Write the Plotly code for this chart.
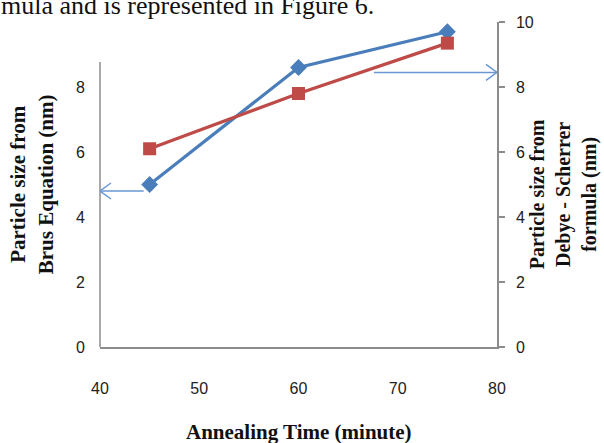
import plotly.graph_objects as go

# Data
annealing_time = [45, 60, 75]
brus_size = [5.0, 8.6, 9.7]          # left axis (blue)
scherrer_size = [6.1, 7.8, 9.35]     # right axis (red)
x_ticks = [40, 50, 60, 70, 80]
left_ticks = [0, 2, 4, 6, 8]
right_ticks = [0, 2, 4, 6, 8, 10]
left_axis_top = 8.77
arrow_left_y = 4.8
arrow_left_x = [44.4, 40]
arrow_right_y = 8.45
arrow_right_x = [67.6, 80]

BLUE = "#4A7EBB"
RED = "#BE4B48"
ARROW = "#6A97D2"
AXIS = "#8C8C8C"
TICKFONT = dict(family="Liberation Sans Narrow, Arial Narrow, Liberation Sans, sans-serif", size=16, color="#222222")
TITLEFONT = dict(family="Liberation Serif, Times New Roman, serif", size=21, color="#111111")
RTITLEFONT = dict(family="Liberation Serif, Times New Roman, serif", size=20, color="#111111")

fig = go.Figure()

fig.add_trace(go.Scatter(
    x=annealing_time, y=brus_size, mode="lines+markers",
    line=dict(color=BLUE, width=3.2),
    marker=dict(symbol="diamond", size=13, color=BLUE),
    yaxis="y", showlegend=False, cliponaxis=False))

fig.add_trace(go.Scatter(
    x=annealing_time, y=scherrer_size, mode="lines+markers",
    line=dict(color=RED, width=3.2),
    marker=dict(symbol="square", size=13, color=RED),
    yaxis="y2", showlegend=False, cliponaxis=False))

# arrow shafts
fig.add_trace(go.Scatter(x=arrow_left_x, y=[arrow_left_y] * 2, mode="lines",
                         line=dict(color=ARROW, width=1.5), showlegend=False, hoverinfo="skip"))
fig.add_trace(go.Scatter(x=arrow_right_x, y=[arrow_right_y] * 2, mode="lines",
                         line=dict(color=ARROW, width=1.5), showlegend=False, hoverinfo="skip"))

shapes = [
    # left axis line (shorter than plot)
    dict(type="line", xref="x domain", yref="y", x0=0, x1=0, y0=0, y1=left_axis_top,
         line=dict(color=AXIS, width=1.5)),
    # arrow heads (open chevrons)
    dict(type="path", xref="x", yref="y", xsizemode="pixel", ysizemode="pixel",
         xanchor=arrow_left_x[1], yanchor=arrow_left_y,
         path="M 11,8 L 0,0 L 11,-8", line=dict(color=ARROW, width=1.5)),
    dict(type="path", xref="x", yref="y", xsizemode="pixel", ysizemode="pixel",
         xanchor=arrow_right_x[1], yanchor=arrow_right_y,
         path="M -11,8 L 0,0 L -11,-8", line=dict(color=ARROW, width=1.5)),
]

annotations = [
    dict(text="Particle size from<br>Brus Equation (nm)", xref="paper", yref="paper",
         x=-0.172, y=0.50, textangle=-90, showarrow=False, font=TITLEFONT,
         xanchor="center", yanchor="middle"),
    dict(text="Particle size from<br>Debye - Scherrer<br>formula (nm)", xref="paper", yref="paper",
         x=1.166, y=0.47, textangle=-90, showarrow=False, font=RTITLEFONT,
         xanchor="center", yanchor="middle"),
    dict(text="Annealing Time (minute)", xref="paper", yref="paper",
         x=0.5, y=-0.262, showarrow=False, font=TITLEFONT,
         xanchor="center", yanchor="middle"),
    dict(text="mula and is represented in Figure 6.", xref="paper", yref="paper",
         x=-0.254, y=1.052, showarrow=False,
         font=dict(family="Liberation Serif, Times New Roman, serif", size=26, color="#111111"),
         xanchor="left", yanchor="middle"),
]
# bold titles
for a in annotations[:3]:
    a["text"] = "<b>" + a["text"].replace("<br>", "</b><br><b>") + "</b>"

fig.update_layout(
    width=604, height=443,
    margin=dict(l=100, r=107, t=22, b=96),
    paper_bgcolor="white", plot_bgcolor="white",
    xaxis=dict(range=[40, 80], tickvals=x_ticks, showgrid=False, zeroline=False,
               showline=True, linecolor=AXIS, linewidth=1.5, ticks="",
               tickfont=TICKFONT, ticklabelstandoff=26),
    yaxis=dict(range=[0, 10], tickvals=left_ticks, showgrid=False, zeroline=False,
               showline=False, ticks="", tickfont=TICKFONT, ticklabelstandoff=14),
    yaxis2=dict(range=[0, 10], tickvals=right_ticks, overlaying="y", side="right",
                showgrid=False, zeroline=False, showline=True, linecolor=AXIS, linewidth=1.5,
                ticks="outside", ticklen=6, tickcolor=AXIS, tickwidth=1.5,
                tickfont=TICKFONT, ticklabelstandoff=8),
    shapes=shapes,
    annotations=annotations,
)

fig.write_html("out.html",
               config={"displayModeBar": False},
               post_script="document.body.style.margin='0';document.body.style.overflow='hidden';")
